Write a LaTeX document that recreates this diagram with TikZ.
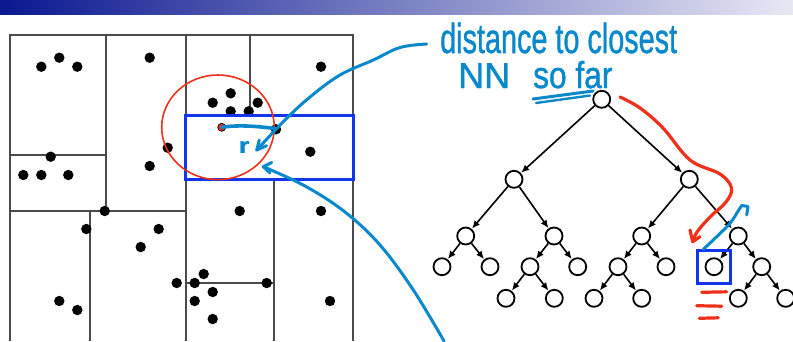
\documentclass[tikz,border=0pt]{standalone}
\usepackage{fontspec}
\setmainfont{Liberation Sans}
\newfontfamily\inkfont[FakeBold=1.2]{Liberation Sans}
\usetikzlibrary{arrows.meta}
\definecolor{bannerdark}{HTML}{0A1890}
\definecolor{bannerlight}{HTML}{E8E8F4}
\definecolor{gridgray}{HTML}{4A4A4A}
\definecolor{boxblue}{HTML}{1034F0}
\definecolor{inkblue}{HTML}{0A88CC}
\definecolor{inkred}{HTML}{F0301A}

\begin{document}
\begin{tikzpicture}[x=1pt,y=-1pt,
  split/.style={draw=gridgray,line width=1.7pt},
  tnode/.style={circle,draw=black,line width=1.8pt,minimum size=17pt,inner sep=0pt},
  tedge/.style={-{Latex[length=8pt,width=7pt]},line width=1.6pt,shorten >=0.3pt},
  ink/.style={draw=inkblue,line width=3pt,line cap=round,line join=round},
  redink/.style={draw=inkred,line width=3.2pt,line cap=round,line join=round},
  hand/.style={text=inkblue,inner sep=0pt,anchor=base west,
    font=\inkfont\fontsize{28.8}{30}\selectfont},
  hilite/.style={draw=boxblue,line width=3.2pt}
]
\useasboundingbox (0,0) rectangle (793,341);

% title banner
\shade[left color=bannerdark,right color=bannerlight] (0,0) rectangle (793,14);

% kd-tree cells
\draw[split] (10,341) -- (10,35) -- (352.7,35) -- (352.7,341);
\draw[split] (106,35) -- (106,211);
\draw[split] (185.7,35) -- (185.7,341);
\draw[split] (250,35) -- (250,115);
\draw[split] (274,180) -- (274,341);
\draw[split] (90,211) -- (90,341);
\draw[split] (10,155) -- (106,155);
\draw[split] (10,211) -- (185.7,211);
\draw[split] (185.7,283) -- (274,283);

% data points
\foreach \px/\py in {41.3/66.7, 59.3/57.7, 77.3/66.7, 149.7/57.7, 321/66.7,
  230.7/93.3, 212.7/102.7, 257.7/102.7, 230.7/111.3, 248.7/111.3, 276/129.3,
  167.7/147.7, 310.3/151.7, 50.7/156.7, 23.3/175, 41.3/175, 68.3/175,
  149.7/166, 104.7/211, 239.7/211, 321/211, 86.3/229, 158.7/229, 140.7/247,
  203.7/274, 176.7/283, 194.7/283, 266.7/283, 212.7/292, 194.7/301,
  59.3/301, 77.3/310, 330/301, 212.7/319}
  \fill (\px,\py) circle (5.2);

% query region and search radius
\draw[hilite] (185.7,115.5) rectangle (353.5,179.3);
\draw[draw=inkred,line width=1.6pt] (218,127.3) ellipse [x radius=56.3,y radius=52.3];
\coordinate (q) at (221.7,127.3);
\coordinate (nn) at (275,128.5);
\filldraw[fill=inkred,draw=black,line width=0.7pt] (q) circle (4);

% radius annotation
\draw[ink,line width=3.6pt] (q) .. controls (240,124.5) and (258,126.5) .. (nn);
\node[hand,anchor=center] (rlabel) at (244,147)
  {\fontsize{24}{24}\selectfont\bfseries\scalebox{1.15}[0.9]{r}};

% ink arrow from the caption to the radius
\coordinate (capstart) at (426.7,44);
\coordinate (rtip) at (256.7,150);
\draw[ink] plot[smooth,tension=0.6] coordinates
  {(capstart) (400,47.5) (373.3,60) (340,75) (310,97) (285,120) (rtip)};
\draw[ink] (259.3,140) -- (rtip) -- (266.7,145.7);

% ink arrow from below to the circle
\coordinate (lowstart) at (444,341);
\coordinate (ctip) at (263.3,166.7);
\draw[ink] plot[smooth,tension=0.6] coordinates
  {(lowstart) (413.3,290) (380,245) (345,212) (305,186) (ctip)};
\draw[ink] (271.7,162.5) -- (ctip) -- (270,173);

% caption
\node[hand] (cap1) at (440,53) {\scalebox{1}[1.45]{distance to closest}};
\node[hand] (cap2) at (458,88) {\scalebox{1.25}[1.25]{NN}};
\node[hand] (cap3) at (533,88) {\scalebox{1.1}[1.3]{so far}};
\draw[ink] (533,99) -- (593,91);
\draw[ink,line width=2.4pt] (536,103) -- (590,95.5);

% search tree
\node[tnode] (root) at (601.7,99.3) {};
\node[tnode] (l) at (514,179.3) {};
\node[tnode] (r) at (689.3,179.3) {};
\node[tnode] (ll) at (465.7,236) {};
\node[tnode] (lr) at (554,236) {};
\node[tnode] (rl) at (641.7,236) {};
\node[tnode] (rr) at (738.3,236) {};
\node[tnode] (lll) at (442,266.7) {};
\node[tnode] (llr) at (490,266.7) {};
\node[tnode] (lrl) at (530,266.7) {};
\node[tnode] (lrr) at (577.7,266.7) {};
\node[tnode] (rll) at (618,266.7) {};
\node[tnode] (rlr) at (666,266.7) {};
\node[tnode] (rrl) at (714,266.7) {};
\node[tnode] (rrr) at (761.7,266.7) {};
\node[tnode] (lrll) at (506,298.3) {};
\node[tnode] (lrlr) at (554.3,298.3) {};
\node[tnode] (rlll) at (594,298.3) {};
\node[tnode] (rllr) at (641.7,298.3) {};
\node[tnode] (rrrl) at (738.3,298.3) {};
\node[tnode] (rrrr) at (785.7,298.3) {};

\foreach \a/\b in {root/l, root/r, l/ll, l/lr, r/rl, r/rr,
  ll/lll, ll/llr, lr/lrl, lr/lrr, rl/rll, rl/rlr, rr/rrl, rr/rrr,
  lrl/lrll, lrl/lrlr, rll/rlll, rll/rllr, rrr/rrrl, rrr/rrrr}
  \draw[tedge] (\a) -- (\b);

% current leaf
\draw[hilite] (697.7,250.7) rectangle (730.7,283.3);

% red descent path
\coordinate (dstart) at (620,97);
\coordinate (dtip) at (692.7,241.7);
\draw[redink] plot[smooth,tension=0.6] coordinates
  {(dstart) (640,108) (663,128) (690,160) (720,174) (731.5,188) (726,202)
   (710,217) (697,232) (dtip)};
\draw[redink] (690,230) -- (dtip) -- (700,236.7);

% backtracking hook
\coordinate (bstart) at (703.3,249.3);
\draw[ink] plot[smooth,tension=0.6] coordinates
  {(bstart) (716.7,236.7) (730,223.3) (737.5,212)};
\draw[ink] (737.5,212) -- (741.7,205.5) -- (748,206.5) -- (746.7,215);

% red marks under the leaf
\draw[redink] (701.7,292.3) -- (726.7,291.8);
\draw[redink] (696.7,305.7) -- (721.7,306.2);
\draw[redink] (699.3,318.3) -- (718.3,317.8);
\end{tikzpicture}
\end{document}
